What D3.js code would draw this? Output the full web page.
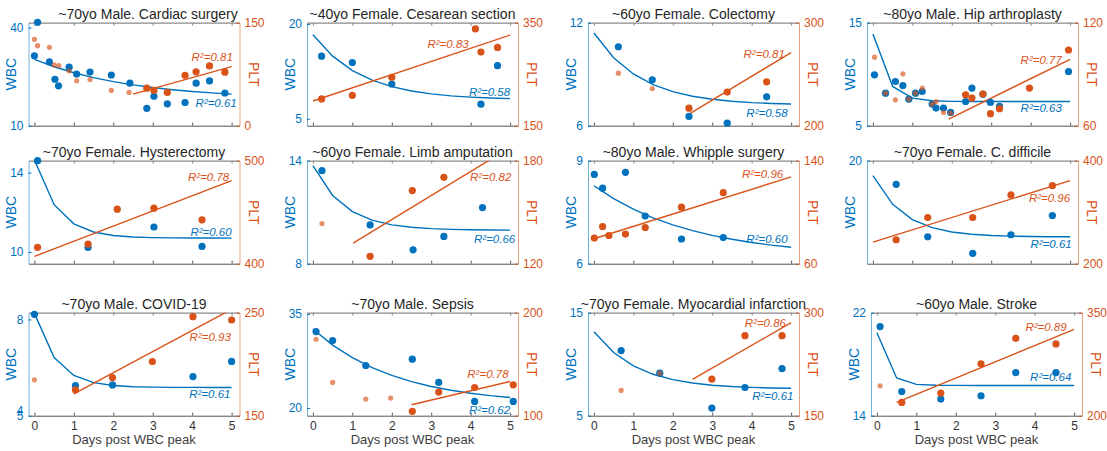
<!DOCTYPE html>
<html>
<head>
<meta charset="utf-8">
<script src="https://cdn.jsdelivr.net/npm/d3@7/dist/d3.min.js"></script>
<style>
  body { margin: 0; background: #fff; }
  svg text { font-family: "Liberation Sans", Arial, sans-serif; }
</style>
</head>
<body>
<div id="chart"></div>
<script>
// ---- data (one entry per panel, left to right, top to bottom) ----
var titles = [
  "~70yo Male. Cardiac surgery", "~40yo Female. Cesarean section", "~60yo Female. Colectomy", "~80yo Male. Hip arthroplasty",
  "~70yo Female. Hysterectomy", "~60yo Female. Limb amputation", "~80yo Male. Whipple surgery", "~70yo Female. C. difficile",
  "~70yo Male. COVID-19", "~70yo Male. Sepsis", "~70yo Female. Myocardial infarction", "~60yo Male. Stroke"
];

var wbcDomains = [[10, 41.5], [3.9, 20.2], [6, 12], [5, 15], [9.41, 14.6], [8, 14], [6, 9], [10, 20], [5, 8.21], [18.78, 35.2], [5, 15], [14, 22]];
var wbcTicks = [[10, 40], [5, 20], [6, 12], [5, 15], [10, 14], [8, 14], [6, 9], [20], [5, 8], [20, 35], [5, 15], [14, 22]];
var pltDomains = [[0, 150], [150, 350], [200, 300], [60, 120], [400, 500], [120, 180], [60, 140], [200, 400], [150, 250], [100, 200], [150, 300], [200, 350]];

var wbcDays = [
  [0.08, 0, 0.38, 0.52, 0.61, 0.88, 1.07, 1.41, 1.95, 2.42, 2.85, 3.03, 3.37, 3.82, 4.1, 4.44, 4.83],
  [0.22, 1.0, 2.0, 4.26, 4.68],
  [0.62, 1.48, 2.41, 3.38, 4.38],
  [0.04, 0.32, 0.57, 0.76, 0.91, 1.08, 1.25, 1.5, 1.6, 1.79, 1.97, 2.35, 2.51, 2.79, 2.98, 3.21, 4.96],
  [0.08, 1.36, 3.03, 4.25],
  [0.23, 1.45, 2.54, 3.32, 4.3],
  [0.01, 0.22, 0.8, 1.3, 2.22, 3.28],
  [0.59, 1.39, 2.53, 3.5, 4.55],
  [0, 1.04, 1.98, 4.02, 5.0],
  [0.08, 0.5, 1.34, 2.52, 3.19, 4.1, 5.08],
  [0.69, 1.67, 2.99, 3.83, 4.77],
  [0.08, 0.63, 1.62, 2.64, 3.52, 4.54]
];
var wbcValues = [
  [41.6, 31.4, 29.5, 24.2, 22.2, 27.9, 25.8, 26.4, 25.5, 23.0, 15.3, 19.0, 16.7, 17.1, 23.0, 23.7, 20.0],
  [14.9, 13.9, 10.5, 7.3, 13.4],
  [10.6, 8.67, 6.54, 6.15, 7.68],
  [9.94, 8.16, 9.29, 8.9, 7.58, 8.16, 8.32, 7.1, 6.71, 6.71, 6.29, 7.35, 8.65, 8.06, 7.26, 6.87, 10.26],
  [14.6, 10.23, 11.26, 10.28],
  [13.42, 10.26, 8.81, 9.59, 11.27],
  [8.6, 8.2, 8.66, 7.39, 6.72, 6.76],
  [17.71, 12.61, 11.0, 12.81, 14.68],
  [8.16, 5.94, 5.96, 6.22, 6.69],
  [32.19, 30.76, 26.78, 27.79, 24.08, 21.06, 21.06],
  [11.32, 9.13, 5.74, 7.74, 9.58],
  [20.92, 15.88, 15.29, 15.55, 17.35, 17.35]
];

var pltDays = [
  [0, 0.08, 0.38, 0.5, 0.62, 0.88, 1.07, 1.41, 1.95, 2.4, 2.85, 3.03, 3.37, 3.82, 4.1, 4.44, 4.83],
  [0.22, 1.0, 2.0, 4.12, 4.26, 4.68],
  [0.62, 1.48, 2.41, 3.38, 4.38],
  [0.04, 0.32, 0.57, 0.76, 0.91, 1.08, 1.25, 1.5, 1.6, 1.79, 1.97, 2.35, 2.51, 2.79, 2.98, 3.21, 3.97, 4.96],
  [0.08, 1.36, 2.1, 3.03, 4.25],
  [0.23, 1.45, 2.52, 3.32],
  [0.01, 0.22, 0.38, 0.8, 1.3, 2.22, 3.28],
  [0.59, 1.39, 2.53, 3.5, 4.55],
  [0, 1.04, 1.98, 2.99, 4.02, 5.0],
  [0.08, 0.5, 1.34, 1.97, 2.52, 3.19, 4.1, 5.08],
  [0.69, 1.67, 2.99, 3.83, 4.77],
  [0.08, 0.63, 1.62, 2.64, 3.52, 4.54]
];
var pltValues = [
  [125.8, 116.6, 114.2, 88.5, 87.6, 79.8, 65.3, 67.2, 51.3, 48.4, 54.7, 51.3, 48.4, 73.5, 78.4, 87.1, 77.9],
  [202, 209, 244, 338, 293, 302],
  [251, 236, 217, 232.6, 242.6],
  [99.9, 79, 75.1, 90.2, 75.5, 79, 81.9, 72.6, 74.1, 67.7, 67.4, 78, 76.1, 78.4, 67, 69.9, 81.9, 104.1],
  [415.8, 419, 452.9, 453.9, 442.6],
  [143.4, 124.3, 162.6, 170.3],
  [79.9, 88.9, 81.9, 83, 88.1, 103.9, 115.2],
  [246.5, 289.7, 289.7, 333.5, 351.6],
  [184.8, 175.2, 187.1, 202.6, 246.1, 242.9],
  [174.2, 132.3, 116.1, 117.1, 104.2, 122.9, 127.4, 130],
  [186.8, 211.9, 203.2, 266.6, 266.6],
  [243.5, 219.4, 232.9, 275.5, 312.7, 304.5]
];
// how many of the first PLT points were left out of the fit (drawn faded)
var pltExcluded = [10, 0, 2, 11, 0, 1, 0, 0, 1, 4, 2, 1];

// WBC fit: a + b*exp(-k*day)
var wbcFits = [[18.1, 12.2, 0.41], [8.0, 10.3, 0.8], [7.2, 4.2, 0.84], [7.35, 6.55, 3.0], [10.7, 3.94, 1.7], [9.95, 3.76, 1.24],
  [6.2, 2.07, 0.4], [12.6, 5.95, 1.26], [5.88, 2.31, 1.82], [20.6, 12.0, 0.48], [7.6, 5.56, 0.91], [16.35, 4.1, 3.9]];
// PLT fit: straight line [day0, value0, day1, value1]
var pltFits = [[2.5, 46, 5, 86], [0, 198, 5, 326], [2.4, 211, 5, 271], [1.92, 63.9, 5, 98.7], [0, 407.1, 5, 480.6], [1.02, 132, 5, 187.7],
  [0, 79.4, 5, 127.4], [0, 241.9, 5, 361.3], [1, 171.3, 5, 253.3], [2.5, 110.6, 5, 133.2], [2.5, 202.9, 5, 285.4], [0.5, 219.4, 5, 325.8]];

var wbcR2 = ["0.61", "0.58", "0.58", "0.63", "0.60", "0.66", "0.60", "0.61", "0.61", "0.62", "0.61", "0.64"];
var pltR2 = ["0.81", "0.83", "0.81", "0.77", "0.78", "0.82", "0.96", "0.96", "0.93", "0.78", "0.86", "0.89"];
// where the R² notes sit, in [day, value] of their own axis (right end of the text)
var wbcR2At = [[5.13, 17.1], [5.0, 9.2], [4.91, 6.77], [4.79, 6.71], [5.0, 11.0], [5.13, 9.45], [4.91, 6.73], [5.04, 11.9], [4.97, 5.67], [5.0, 19.73], [5.06, 6.94], [4.93, 17.0]];
var pltR2At = [[5.03, 100.6], [3.95, 308], [4.84, 269.7], [4.79, 98.3], [4.94, 484.5], [5.03, 170.7], [4.8, 129.4], [5.0, 328.4], [4.98, 226.8], [4.96, 140.3], [4.87, 285.5], [4.81, 328.7]];

var dayTicks = [0, 1, 2, 3, 4, 5];
var fitDays = [0, 0.5, 1, 1.5, 2, 2.5, 3, 3.5, 4, 4.5, 5];

// ---- layout ----
var width = 1107, height = 451;
var panelW = 211, panelH = 103;
var rowTops = [22.7, 160.7, 312.7];
var boxLefts = [28.5, 307, 588, 867, 28.5, 307, 588, 867, 28.5, 307, 588, 871];
var blue = "#0072BD", orange = "#D95319";

var svg = d3.select("#chart").append("svg")
  .attr("width", width)
  .attr("height", height);

titles.forEach(function (title, i) {
  var row = Math.floor(i / 4);
  var left = boxLefts[i], top = rowTops[row];
  var right = left + panelW, bottom = top + panelH;

  var x = d3.scaleLinear().domain([-0.15, 5.2]).range([left, right]);
  var yW = d3.scaleLinear().domain(wbcDomains[i]).range([bottom, top]);
  var yP = d3.scaleLinear().domain(pltDomains[i]).range([bottom, top]);

  var g = svg.append("g");

  g.append("clipPath").attr("id", "clip" + i)
    .append("rect")
    .attr("x", left).attr("y", top)
    .attr("width", panelW).attr("height", panelH);

  // bottom / top box lines with inward ticks
  var bottomAxis = d3.axisBottom(x).tickValues(dayTicks).tickSizeInner(-3).tickSizeOuter(0).tickPadding(6)
    .tickFormat(row === 2 ? d3.format("d") : "");
  var xAxisG = g.append("g").attr("transform", `translate(0, ${bottom})`).call(bottomAxis);
  xAxisG.select(".domain").attr("stroke", "#555");
  xAxisG.selectAll(".tick line").attr("stroke", "#555");
  xAxisG.selectAll("text").attr("fill", "#333").style("font-size", "12px");

  var topAxis = d3.axisTop(x).tickValues(dayTicks).tickSizeInner(-3).tickSizeOuter(0).tickFormat("");
  var topG = g.append("g").attr("transform", `translate(0, ${top})`).call(topAxis);
  topG.select(".domain").attr("stroke", "#8a8a8a").attr("stroke-width", 1.2);
  topG.selectAll(".tick line").attr("stroke", "#8a8a8a");

  // left WBC axis
  var leftAxis = d3.axisLeft(yW).tickValues(wbcTicks[i]).tickFormat(d3.format("d"))
    .tickSizeInner(-3).tickSizeOuter(0).tickPadding(5);
  var yWG = g.append("g").attr("transform", `translate(${left}, 0)`).call(leftAxis);
  yWG.select(".domain").attr("stroke", blue).attr("stroke-opacity", 0.55);
  yWG.selectAll(".tick line").attr("stroke", blue);
  yWG.selectAll("text").attr("fill", blue).style("font-size", "12px");
  if (i === 8) {
    // stray overlapping "4" next to the 5 on the COVID-19 panel
    yWG.append("text").attr("x", -5).attr("y", yW(5) - 5).attr("dy", "0.32em")
      .attr("text-anchor", "end").attr("fill", blue).style("font-size", "12px").text("4");
  }

  // right PLT axis
  var rightAxis = d3.axisRight(yP).tickValues(pltDomains[i]).tickFormat(d3.format("d"))
    .tickSizeInner(-3).tickSizeOuter(0).tickPadding(5);
  var yPG = g.append("g").attr("transform", `translate(${right}, 0)`).call(rightAxis);
  yPG.select(".domain").attr("stroke", orange).attr("stroke-opacity", 0.55);
  yPG.selectAll(".tick line").attr("stroke", orange);
  yPG.selectAll("text").attr("fill", orange).style("font-size", "12px");

  // axis titles
  g.append("text")
    .attr("transform", `translate(${left - 17}, ${(top + bottom) / 2}) rotate(-90)`)
    .attr("text-anchor", "middle").attr("dy", "0.35em")
    .attr("fill", blue).style("font-size", "14px").text("WBC");
  g.append("text")
    .attr("transform", `translate(${right + 14}, ${(top + bottom) / 2}) rotate(90)`)
    .attr("text-anchor", "middle").attr("dy", "0.35em")
    .attr("fill", orange).style("font-size", "14px").text("PLT");

  // panel title (the first one sits a little right of centre in the original)
  g.append("text")
    .attr("x", (left + right) / 2 + (i === 0 ? 14 : 0)).attr("y", top - 4)
    .attr("text-anchor", "middle").attr("fill", "#262626")
    .style("font-size", "14px").text(title);

  if (row === 2) {
    g.append("text")
      .attr("x", (left + right) / 2).attr("y", bottom + 28)
      .attr("text-anchor", "middle").attr("fill", "#404040")
      .style("font-size", "13px").text("Days post WBC peak");
  }

  // fits
  var fit = wbcFits[i];
  var wbcLine = d3.line()
    .x(d => x(d))
    .y(d => yW(fit[0] + fit[1] * Math.exp(-fit[2] * d)));
  g.append("path").datum(fitDays)
    .attr("d", wbcLine)
    .attr("fill", "none").attr("stroke", blue).attr("stroke-width", 1.4)
    .attr("clip-path", `url(#clip${i})`);

  var pf = pltFits[i];
  g.append("line")
    .attr("x1", x(pf[0])).attr("y1", yP(pf[1]))
    .attr("x2", x(pf[2])).attr("y2", yP(pf[3]))
    .attr("stroke", orange).attr("stroke-width", 1.4)
    .attr("clip-path", `url(#clip${i})`);

  // points
  g.selectAll(".wbc").data(wbcDays[i]).enter().append("circle")
    .attr("class", "wbc")
    .attr("cx", d => x(d))
    .attr("cy", (d, j) => yW(wbcValues[i][j]))
    .attr("r", 3.6)
    .attr("fill", blue);

  g.selectAll(".plt").data(pltDays[i]).enter().append("circle")
    .attr("class", "plt")
    .attr("cx", d => x(d))
    .attr("cy", (d, j) => yP(pltValues[i][j]))
    .attr("r", (d, j) => j < pltExcluded[i] ? 2.6 : 3.6)
    .attr("fill", orange)
    .attr("fill-opacity", (d, j) => j < pltExcluded[i] ? 0.65 : 1);

  // R² notes
  g.append("text")
    .attr("x", x(pltR2At[i][0])).attr("y", yP(pltR2At[i][1]))
    .attr("text-anchor", "end").attr("dy", "0.35em")
    .attr("fill", orange).style("font-size", "11.5px").style("font-style", "italic")
    .text("R²=" + pltR2[i]);
  g.append("text")
    .attr("x", x(wbcR2At[i][0])).attr("y", yW(wbcR2At[i][1]))
    .attr("text-anchor", "end").attr("dy", "0.35em")
    .attr("fill", blue).style("font-size", "11.5px").style("font-style", "italic")
    .text("R²=" + wbcR2[i]);
});
</script>
</body>
</html>
